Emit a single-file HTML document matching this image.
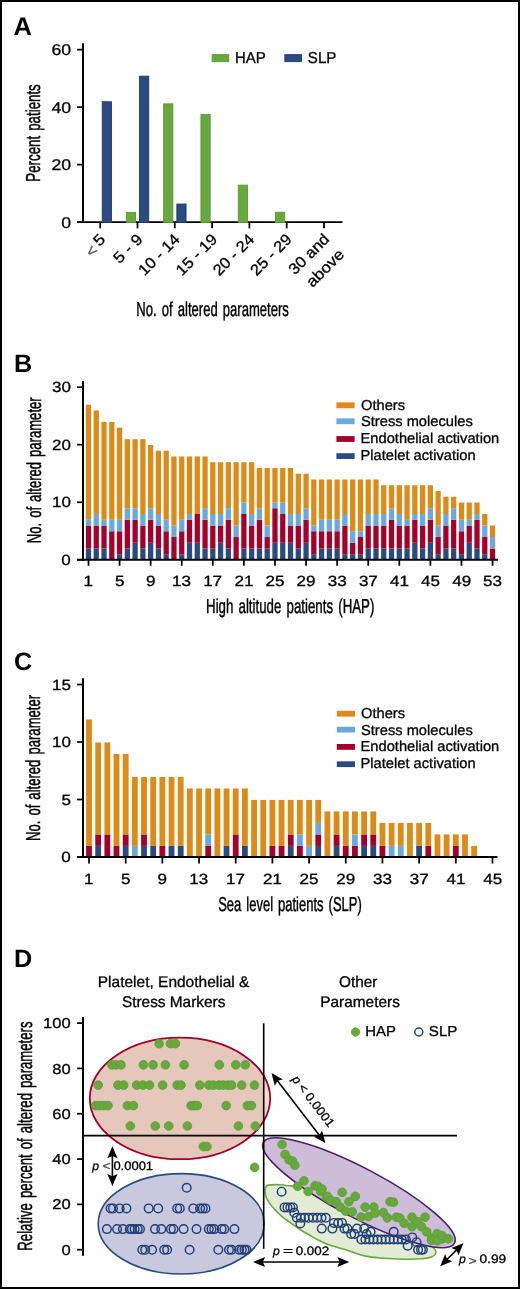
<!DOCTYPE html>
<html><head><meta charset="utf-8"><style>
html,body{margin:0;padding:0;background:#fff;}
svg{display:block;will-change:transform;}
text{font-family:"Liberation Sans",sans-serif;text-rendering:geometricPrecision;}
</style></head><body>
<svg width="520" height="1289" viewBox="0 0 520 1289">
<rect x="0" y="0" width="520" height="1289" fill="#fff"/>
<text transform="translate(14.30,35.10)" x="-0.77" y="0" font-size="25.5" font-weight="bold" fill="#000">A</text>
<line x1="83.00" y1="43.20" x2="83.00" y2="223.05" stroke="#000" stroke-width="2.0"/>
<line x1="77.10" y1="49.65" x2="83.00" y2="49.65" stroke="#000" stroke-width="1.75"/>
<text transform="translate(52.28,55.10) scale(1.1400,1)" x="-0.78" y="0" font-size="15.5" fill="#000" stroke="#000" stroke-width="0.3">60</text>
<line x1="77.10" y1="107.13" x2="83.00" y2="107.13" stroke="#000" stroke-width="1.75"/>
<text transform="translate(51.75,112.58) scale(1.1400,1)" x="-0.31" y="0" font-size="15.5" fill="#000" stroke="#000" stroke-width="0.3">40</text>
<line x1="77.10" y1="164.62" x2="83.00" y2="164.62" stroke="#000" stroke-width="1.75"/>
<text transform="translate(52.28,170.07) scale(1.1400,1)" x="-0.78" y="0" font-size="15.5" fill="#000" stroke="#000" stroke-width="0.3">20</text>
<line x1="77.10" y1="222.10" x2="83.00" y2="222.10" stroke="#000" stroke-width="1.75"/>
<text transform="translate(61.82,227.55) scale(1.1400,1)" x="-0.62" y="0" font-size="15.5" fill="#000" stroke="#000" stroke-width="0.3">0</text>
<line x1="77.10" y1="222.10" x2="342.50" y2="222.10" stroke="#000" stroke-width="1.9"/>
<line x1="100.20" y1="222.00" x2="100.20" y2="228.30" stroke="#000" stroke-width="1.75"/>
<line x1="137.50" y1="222.00" x2="137.50" y2="228.30" stroke="#000" stroke-width="1.75"/>
<line x1="174.80" y1="222.00" x2="174.80" y2="228.30" stroke="#000" stroke-width="1.75"/>
<line x1="212.10" y1="222.00" x2="212.10" y2="228.30" stroke="#000" stroke-width="1.75"/>
<line x1="249.40" y1="222.00" x2="249.40" y2="228.30" stroke="#000" stroke-width="1.75"/>
<line x1="286.70" y1="222.00" x2="286.70" y2="228.30" stroke="#000" stroke-width="1.75"/>
<line x1="324.00" y1="222.00" x2="324.00" y2="228.30" stroke="#000" stroke-width="1.75"/>
<rect x="102.25" y="101.75" width="9.20" height="120.70" fill="#2b4a80" stroke="#1f3b72" stroke-width="0.9"/>
<rect x="126.35" y="212.35" width="9.20" height="10.10" fill="#68a93e" stroke="#599c2f" stroke-width="0.9"/>
<rect x="139.55" y="76.15" width="9.20" height="146.30" fill="#2b4a80" stroke="#1f3b72" stroke-width="0.9"/>
<rect x="163.65" y="103.85" width="9.20" height="118.60" fill="#68a93e" stroke="#599c2f" stroke-width="0.9"/>
<rect x="176.85" y="204.05" width="9.20" height="18.40" fill="#2b4a80" stroke="#1f3b72" stroke-width="0.9"/>
<rect x="200.95" y="114.55" width="9.20" height="107.90" fill="#68a93e" stroke="#599c2f" stroke-width="0.9"/>
<rect x="238.25" y="185.15" width="9.20" height="37.30" fill="#68a93e" stroke="#599c2f" stroke-width="0.9"/>
<rect x="275.55" y="212.25" width="9.20" height="10.20" fill="#68a93e" stroke="#599c2f" stroke-width="0.9"/>
<rect x="212.15" y="54.65" width="16.6" height="7.0" fill="#68a93e" stroke="#599c2f" stroke-width="0.9"/>
<text transform="translate(236.20,62.90) scale(0.9461,1)" x="-1.26" y="0" font-size="15.8" fill="#000" stroke="#000" stroke-width="0.3">HAP</text>
<rect x="284.85" y="54.65" width="16.6" height="7.0" fill="#2b4a80" stroke="#1f3b72" stroke-width="0.9"/>
<text transform="translate(308.60,62.90) scale(0.9547,1)" x="-0.79" y="0" font-size="15.8" fill="#000" stroke="#000" stroke-width="0.3">SLP</text>
<text transform="translate(40.30,180.60) rotate(-90) scale(0.6576,1)" x="-1.62" y="0" font-size="20.2" fill="#000" stroke="#000" stroke-width="0.45" word-spacing="2.2">Percent patients</text>
<text transform="translate(137.40,315.90) scale(0.6476,1)" x="-1.62" y="0" font-size="20.2" fill="#000" stroke="#000" stroke-width="0.45" word-spacing="2.2">No. of altered parameters</text>
<text transform="translate(100.03,246.47) rotate(-45) scale(1.1000,1)" x="-0.62" y="0" font-size="15.5" fill="#000" stroke="#000" stroke-width="0.3">5</text>
<text transform="translate(119.97,263.83) rotate(-45) scale(1.1000,1)" x="-0.62" y="0" font-size="15.5" fill="#000" stroke="#000" stroke-width="0.3">5 - 9</text>
<text transform="translate(145.45,275.65) rotate(-45) scale(1.0600,1)" x="-1.24" y="0" font-size="15.5" fill="#000" stroke="#000" stroke-width="0.3">10 - 14</text>
<text transform="translate(182.86,275.54) rotate(-45) scale(1.0600,1)" x="-1.24" y="0" font-size="15.5" fill="#000" stroke="#000" stroke-width="0.3">15 - 19</text>
<text transform="translate(219.70,276.00) rotate(-45) scale(1.0600,1)" x="-0.78" y="0" font-size="15.5" fill="#000" stroke="#000" stroke-width="0.3">20 - 24</text>
<text transform="translate(257.11,275.89) rotate(-45) scale(1.0600,1)" x="-0.78" y="0" font-size="15.5" fill="#000" stroke="#000" stroke-width="0.3">25 - 29</text>
<text transform="translate(295.23,275.07) rotate(-45) scale(1.0600,1)" x="-0.62" y="0" font-size="15.5" fill="#000" stroke="#000" stroke-width="0.3">30 and</text>
<text transform="translate(92.47,257.63) rotate(-45) scale(1.1000,1)" x="-0.78" y="0" font-size="15.5" fill="#555" stroke="#555" stroke-width="0.3">&lt;</text>
<text transform="translate(312.87,287.63) rotate(-45) scale(1.1000,1)" x="-0.62" y="0" font-size="15.5" fill="#000" stroke="#000" stroke-width="0.3">above</text>
<text transform="translate(15.80,371.90)" x="-1.76" y="0" font-size="25.2" font-weight="bold" fill="#000">B</text>
<line x1="83.00" y1="380.90" x2="83.00" y2="560.80" stroke="#000" stroke-width="2.0"/>
<line x1="77.10" y1="387.15" x2="83.00" y2="387.15" stroke="#000" stroke-width="1.75"/>
<text transform="translate(52.67,392.35) scale(1.1500,1)" x="-0.59" y="0" font-size="14.8" fill="#000" stroke="#000" stroke-width="0.3">30</text>
<line x1="77.10" y1="444.70" x2="83.00" y2="444.70" stroke="#000" stroke-width="1.75"/>
<text transform="translate(52.84,449.90) scale(1.1500,1)" x="-0.74" y="0" font-size="14.8" fill="#000" stroke="#000" stroke-width="0.3">20</text>
<line x1="77.10" y1="502.25" x2="83.00" y2="502.25" stroke="#000" stroke-width="1.75"/>
<text transform="translate(53.35,507.45) scale(1.1500,1)" x="-1.18" y="0" font-size="14.8" fill="#000" stroke="#000" stroke-width="0.3">10</text>
<line x1="77.10" y1="559.80" x2="83.00" y2="559.80" stroke="#000" stroke-width="1.75"/>
<text transform="translate(62.03,565.00) scale(1.1500,1)" x="-0.59" y="0" font-size="14.8" fill="#000" stroke="#000" stroke-width="0.3">0</text>
<rect x="85.88" y="548.54" width="5.25" height="11.51" fill="#2b4a80"/>
<rect x="85.88" y="525.52" width="5.25" height="23.02" fill="#a5002a"/>
<rect x="85.88" y="519.76" width="5.25" height="5.75" fill="#68a9df"/>
<rect x="85.88" y="404.66" width="5.25" height="115.10" fill="#dd8a17"/>
<rect x="93.64" y="548.54" width="5.25" height="11.51" fill="#2b4a80"/>
<rect x="93.64" y="525.52" width="5.25" height="23.02" fill="#a5002a"/>
<rect x="93.64" y="514.01" width="5.25" height="11.51" fill="#68a9df"/>
<rect x="93.64" y="410.42" width="5.25" height="103.59" fill="#dd8a17"/>
<rect x="101.41" y="548.54" width="5.25" height="11.51" fill="#2b4a80"/>
<rect x="101.41" y="525.52" width="5.25" height="23.02" fill="#a5002a"/>
<rect x="101.41" y="519.76" width="5.25" height="5.75" fill="#68a9df"/>
<rect x="101.41" y="421.93" width="5.25" height="97.83" fill="#dd8a17"/>
<rect x="109.19" y="531.27" width="5.25" height="28.77" fill="#a5002a"/>
<rect x="109.19" y="519.76" width="5.25" height="11.51" fill="#68a9df"/>
<rect x="109.19" y="421.93" width="5.25" height="97.83" fill="#dd8a17"/>
<rect x="116.95" y="554.29" width="5.25" height="5.75" fill="#2b4a80"/>
<rect x="116.95" y="531.27" width="5.25" height="23.02" fill="#a5002a"/>
<rect x="116.95" y="519.76" width="5.25" height="11.51" fill="#68a9df"/>
<rect x="116.95" y="427.68" width="5.25" height="92.08" fill="#dd8a17"/>
<rect x="124.72" y="548.54" width="5.25" height="11.51" fill="#2b4a80"/>
<rect x="124.72" y="519.76" width="5.25" height="28.77" fill="#a5002a"/>
<rect x="124.72" y="508.25" width="5.25" height="11.51" fill="#68a9df"/>
<rect x="124.72" y="439.19" width="5.25" height="69.06" fill="#dd8a17"/>
<rect x="132.50" y="542.78" width="5.25" height="17.26" fill="#2b4a80"/>
<rect x="132.50" y="519.76" width="5.25" height="23.02" fill="#a5002a"/>
<rect x="132.50" y="508.25" width="5.25" height="11.51" fill="#68a9df"/>
<rect x="132.50" y="439.19" width="5.25" height="69.06" fill="#dd8a17"/>
<rect x="140.26" y="548.54" width="5.25" height="11.51" fill="#2b4a80"/>
<rect x="140.26" y="525.52" width="5.25" height="23.02" fill="#a5002a"/>
<rect x="140.26" y="514.01" width="5.25" height="11.51" fill="#68a9df"/>
<rect x="140.26" y="439.19" width="5.25" height="74.81" fill="#dd8a17"/>
<rect x="148.03" y="542.78" width="5.25" height="17.26" fill="#2b4a80"/>
<rect x="148.03" y="519.76" width="5.25" height="23.02" fill="#a5002a"/>
<rect x="148.03" y="508.25" width="5.25" height="11.51" fill="#68a9df"/>
<rect x="148.03" y="444.95" width="5.25" height="63.30" fill="#dd8a17"/>
<rect x="155.81" y="548.54" width="5.25" height="11.51" fill="#2b4a80"/>
<rect x="155.81" y="525.52" width="5.25" height="23.02" fill="#a5002a"/>
<rect x="155.81" y="514.01" width="5.25" height="11.51" fill="#68a9df"/>
<rect x="155.81" y="450.70" width="5.25" height="63.30" fill="#dd8a17"/>
<rect x="163.57" y="554.29" width="5.25" height="5.75" fill="#2b4a80"/>
<rect x="163.57" y="531.27" width="5.25" height="23.02" fill="#a5002a"/>
<rect x="163.57" y="519.76" width="5.25" height="11.51" fill="#68a9df"/>
<rect x="163.57" y="450.70" width="5.25" height="69.06" fill="#dd8a17"/>
<rect x="171.34" y="537.03" width="5.25" height="23.02" fill="#a5002a"/>
<rect x="171.34" y="525.52" width="5.25" height="11.51" fill="#68a9df"/>
<rect x="171.34" y="456.46" width="5.25" height="69.06" fill="#dd8a17"/>
<rect x="179.12" y="554.29" width="5.25" height="5.75" fill="#2b4a80"/>
<rect x="179.12" y="531.27" width="5.25" height="23.02" fill="#a5002a"/>
<rect x="179.12" y="519.76" width="5.25" height="11.51" fill="#68a9df"/>
<rect x="179.12" y="456.46" width="5.25" height="63.30" fill="#dd8a17"/>
<rect x="186.88" y="542.78" width="5.25" height="17.26" fill="#2b4a80"/>
<rect x="186.88" y="519.76" width="5.25" height="23.02" fill="#a5002a"/>
<rect x="186.88" y="514.01" width="5.25" height="5.75" fill="#68a9df"/>
<rect x="186.88" y="456.46" width="5.25" height="57.55" fill="#dd8a17"/>
<rect x="194.66" y="542.78" width="5.25" height="17.26" fill="#2b4a80"/>
<rect x="194.66" y="514.01" width="5.25" height="28.77" fill="#a5002a"/>
<rect x="194.66" y="456.46" width="5.25" height="57.55" fill="#dd8a17"/>
<rect x="202.43" y="548.54" width="5.25" height="11.51" fill="#2b4a80"/>
<rect x="202.43" y="519.76" width="5.25" height="28.77" fill="#a5002a"/>
<rect x="202.43" y="508.25" width="5.25" height="11.51" fill="#68a9df"/>
<rect x="202.43" y="456.46" width="5.25" height="51.79" fill="#dd8a17"/>
<rect x="210.19" y="548.54" width="5.25" height="11.51" fill="#2b4a80"/>
<rect x="210.19" y="525.52" width="5.25" height="23.02" fill="#a5002a"/>
<rect x="210.19" y="514.01" width="5.25" height="11.51" fill="#68a9df"/>
<rect x="210.19" y="462.21" width="5.25" height="51.79" fill="#dd8a17"/>
<rect x="217.97" y="542.78" width="5.25" height="17.26" fill="#2b4a80"/>
<rect x="217.97" y="525.52" width="5.25" height="17.26" fill="#a5002a"/>
<rect x="217.97" y="514.01" width="5.25" height="11.51" fill="#68a9df"/>
<rect x="217.97" y="462.21" width="5.25" height="51.79" fill="#dd8a17"/>
<rect x="225.73" y="548.54" width="5.25" height="11.51" fill="#2b4a80"/>
<rect x="225.73" y="519.76" width="5.25" height="28.77" fill="#a5002a"/>
<rect x="225.73" y="508.25" width="5.25" height="11.51" fill="#68a9df"/>
<rect x="225.73" y="462.21" width="5.25" height="46.04" fill="#dd8a17"/>
<rect x="233.50" y="537.03" width="5.25" height="23.02" fill="#a5002a"/>
<rect x="233.50" y="525.52" width="5.25" height="11.51" fill="#68a9df"/>
<rect x="233.50" y="462.21" width="5.25" height="63.30" fill="#dd8a17"/>
<rect x="241.27" y="548.54" width="5.25" height="11.51" fill="#2b4a80"/>
<rect x="241.27" y="514.01" width="5.25" height="34.53" fill="#a5002a"/>
<rect x="241.27" y="502.50" width="5.25" height="11.51" fill="#68a9df"/>
<rect x="241.27" y="462.21" width="5.25" height="40.28" fill="#dd8a17"/>
<rect x="249.04" y="548.54" width="5.25" height="11.51" fill="#2b4a80"/>
<rect x="249.04" y="525.52" width="5.25" height="23.02" fill="#a5002a"/>
<rect x="249.04" y="514.01" width="5.25" height="11.51" fill="#68a9df"/>
<rect x="249.04" y="462.21" width="5.25" height="51.79" fill="#dd8a17"/>
<rect x="256.81" y="548.54" width="5.25" height="11.51" fill="#2b4a80"/>
<rect x="256.81" y="519.76" width="5.25" height="28.77" fill="#a5002a"/>
<rect x="256.81" y="508.25" width="5.25" height="11.51" fill="#68a9df"/>
<rect x="256.81" y="467.97" width="5.25" height="40.28" fill="#dd8a17"/>
<rect x="264.58" y="548.54" width="5.25" height="11.51" fill="#2b4a80"/>
<rect x="264.58" y="537.03" width="5.25" height="11.51" fill="#a5002a"/>
<rect x="264.58" y="525.52" width="5.25" height="11.51" fill="#68a9df"/>
<rect x="264.58" y="467.97" width="5.25" height="57.55" fill="#dd8a17"/>
<rect x="272.36" y="542.78" width="5.25" height="17.26" fill="#2b4a80"/>
<rect x="272.36" y="508.25" width="5.25" height="34.53" fill="#a5002a"/>
<rect x="272.36" y="502.50" width="5.25" height="5.75" fill="#68a9df"/>
<rect x="272.36" y="467.97" width="5.25" height="34.53" fill="#dd8a17"/>
<rect x="280.12" y="542.78" width="5.25" height="17.26" fill="#2b4a80"/>
<rect x="280.12" y="514.01" width="5.25" height="28.77" fill="#a5002a"/>
<rect x="280.12" y="502.50" width="5.25" height="11.51" fill="#68a9df"/>
<rect x="280.12" y="467.97" width="5.25" height="34.53" fill="#dd8a17"/>
<rect x="287.89" y="542.78" width="5.25" height="17.26" fill="#2b4a80"/>
<rect x="287.89" y="525.52" width="5.25" height="17.26" fill="#a5002a"/>
<rect x="287.89" y="514.01" width="5.25" height="11.51" fill="#68a9df"/>
<rect x="287.89" y="467.97" width="5.25" height="46.04" fill="#dd8a17"/>
<rect x="295.66" y="548.54" width="5.25" height="11.51" fill="#2b4a80"/>
<rect x="295.66" y="525.52" width="5.25" height="23.02" fill="#a5002a"/>
<rect x="295.66" y="514.01" width="5.25" height="11.51" fill="#68a9df"/>
<rect x="295.66" y="473.72" width="5.25" height="40.28" fill="#dd8a17"/>
<rect x="303.44" y="542.78" width="5.25" height="17.26" fill="#2b4a80"/>
<rect x="303.44" y="519.76" width="5.25" height="23.02" fill="#a5002a"/>
<rect x="303.44" y="508.25" width="5.25" height="11.51" fill="#68a9df"/>
<rect x="303.44" y="473.72" width="5.25" height="34.53" fill="#dd8a17"/>
<rect x="311.20" y="554.29" width="5.25" height="5.75" fill="#2b4a80"/>
<rect x="311.20" y="531.27" width="5.25" height="23.02" fill="#a5002a"/>
<rect x="311.20" y="525.52" width="5.25" height="5.75" fill="#68a9df"/>
<rect x="311.20" y="479.48" width="5.25" height="46.04" fill="#dd8a17"/>
<rect x="318.98" y="548.54" width="5.25" height="11.51" fill="#2b4a80"/>
<rect x="318.98" y="531.27" width="5.25" height="17.26" fill="#a5002a"/>
<rect x="318.98" y="519.76" width="5.25" height="11.51" fill="#68a9df"/>
<rect x="318.98" y="479.48" width="5.25" height="40.28" fill="#dd8a17"/>
<rect x="326.75" y="548.54" width="5.25" height="11.51" fill="#2b4a80"/>
<rect x="326.75" y="531.27" width="5.25" height="17.26" fill="#a5002a"/>
<rect x="326.75" y="519.76" width="5.25" height="11.51" fill="#68a9df"/>
<rect x="326.75" y="479.48" width="5.25" height="40.28" fill="#dd8a17"/>
<rect x="334.51" y="548.54" width="5.25" height="11.51" fill="#2b4a80"/>
<rect x="334.51" y="531.27" width="5.25" height="17.26" fill="#a5002a"/>
<rect x="334.51" y="519.76" width="5.25" height="11.51" fill="#68a9df"/>
<rect x="334.51" y="479.48" width="5.25" height="40.28" fill="#dd8a17"/>
<rect x="342.28" y="554.29" width="5.25" height="5.75" fill="#2b4a80"/>
<rect x="342.28" y="525.52" width="5.25" height="28.77" fill="#a5002a"/>
<rect x="342.28" y="514.01" width="5.25" height="11.51" fill="#68a9df"/>
<rect x="342.28" y="479.48" width="5.25" height="34.53" fill="#dd8a17"/>
<rect x="350.06" y="554.29" width="5.25" height="5.75" fill="#2b4a80"/>
<rect x="350.06" y="542.78" width="5.25" height="11.51" fill="#a5002a"/>
<rect x="350.06" y="531.27" width="5.25" height="11.51" fill="#68a9df"/>
<rect x="350.06" y="479.48" width="5.25" height="51.79" fill="#dd8a17"/>
<rect x="357.82" y="554.29" width="5.25" height="5.75" fill="#2b4a80"/>
<rect x="357.82" y="537.03" width="5.25" height="17.26" fill="#a5002a"/>
<rect x="357.82" y="531.27" width="5.25" height="5.75" fill="#68a9df"/>
<rect x="357.82" y="479.48" width="5.25" height="51.79" fill="#dd8a17"/>
<rect x="365.59" y="548.54" width="5.25" height="11.51" fill="#2b4a80"/>
<rect x="365.59" y="525.52" width="5.25" height="23.02" fill="#a5002a"/>
<rect x="365.59" y="514.01" width="5.25" height="11.51" fill="#68a9df"/>
<rect x="365.59" y="479.48" width="5.25" height="34.53" fill="#dd8a17"/>
<rect x="373.37" y="548.54" width="5.25" height="11.51" fill="#2b4a80"/>
<rect x="373.37" y="525.52" width="5.25" height="23.02" fill="#a5002a"/>
<rect x="373.37" y="514.01" width="5.25" height="11.51" fill="#68a9df"/>
<rect x="373.37" y="479.48" width="5.25" height="34.53" fill="#dd8a17"/>
<rect x="381.13" y="548.54" width="5.25" height="11.51" fill="#2b4a80"/>
<rect x="381.13" y="525.52" width="5.25" height="23.02" fill="#a5002a"/>
<rect x="381.13" y="514.01" width="5.25" height="11.51" fill="#68a9df"/>
<rect x="381.13" y="485.23" width="5.25" height="28.77" fill="#dd8a17"/>
<rect x="388.90" y="548.54" width="5.25" height="11.51" fill="#2b4a80"/>
<rect x="388.90" y="519.76" width="5.25" height="28.77" fill="#a5002a"/>
<rect x="388.90" y="508.25" width="5.25" height="11.51" fill="#68a9df"/>
<rect x="388.90" y="485.23" width="5.25" height="23.02" fill="#dd8a17"/>
<rect x="396.67" y="548.54" width="5.25" height="11.51" fill="#2b4a80"/>
<rect x="396.67" y="525.52" width="5.25" height="23.02" fill="#a5002a"/>
<rect x="396.67" y="514.01" width="5.25" height="11.51" fill="#68a9df"/>
<rect x="396.67" y="485.23" width="5.25" height="28.77" fill="#dd8a17"/>
<rect x="404.44" y="548.54" width="5.25" height="11.51" fill="#2b4a80"/>
<rect x="404.44" y="525.52" width="5.25" height="23.02" fill="#a5002a"/>
<rect x="404.44" y="519.76" width="5.25" height="5.75" fill="#68a9df"/>
<rect x="404.44" y="485.23" width="5.25" height="34.53" fill="#dd8a17"/>
<rect x="412.21" y="542.78" width="5.25" height="17.26" fill="#2b4a80"/>
<rect x="412.21" y="519.76" width="5.25" height="23.02" fill="#a5002a"/>
<rect x="412.21" y="514.01" width="5.25" height="5.75" fill="#68a9df"/>
<rect x="412.21" y="485.23" width="5.25" height="28.77" fill="#dd8a17"/>
<rect x="419.98" y="548.54" width="5.25" height="11.51" fill="#2b4a80"/>
<rect x="419.98" y="525.52" width="5.25" height="23.02" fill="#a5002a"/>
<rect x="419.98" y="514.01" width="5.25" height="11.51" fill="#68a9df"/>
<rect x="419.98" y="485.23" width="5.25" height="28.77" fill="#dd8a17"/>
<rect x="427.75" y="542.78" width="5.25" height="17.26" fill="#2b4a80"/>
<rect x="427.75" y="519.76" width="5.25" height="23.02" fill="#a5002a"/>
<rect x="427.75" y="508.25" width="5.25" height="11.51" fill="#68a9df"/>
<rect x="427.75" y="485.23" width="5.25" height="23.02" fill="#dd8a17"/>
<rect x="435.52" y="554.29" width="5.25" height="5.75" fill="#2b4a80"/>
<rect x="435.52" y="537.03" width="5.25" height="17.26" fill="#a5002a"/>
<rect x="435.52" y="525.52" width="5.25" height="11.51" fill="#68a9df"/>
<rect x="435.52" y="490.99" width="5.25" height="34.53" fill="#dd8a17"/>
<rect x="443.29" y="548.54" width="5.25" height="11.51" fill="#2b4a80"/>
<rect x="443.29" y="525.52" width="5.25" height="23.02" fill="#a5002a"/>
<rect x="443.29" y="514.01" width="5.25" height="11.51" fill="#68a9df"/>
<rect x="443.29" y="496.74" width="5.25" height="17.26" fill="#dd8a17"/>
<rect x="451.06" y="548.54" width="5.25" height="11.51" fill="#2b4a80"/>
<rect x="451.06" y="519.76" width="5.25" height="28.77" fill="#a5002a"/>
<rect x="451.06" y="508.25" width="5.25" height="11.51" fill="#68a9df"/>
<rect x="451.06" y="496.74" width="5.25" height="11.51" fill="#dd8a17"/>
<rect x="458.83" y="554.29" width="5.25" height="5.75" fill="#2b4a80"/>
<rect x="458.83" y="531.27" width="5.25" height="23.02" fill="#a5002a"/>
<rect x="458.83" y="519.76" width="5.25" height="11.51" fill="#68a9df"/>
<rect x="458.83" y="502.50" width="5.25" height="17.26" fill="#dd8a17"/>
<rect x="466.60" y="542.78" width="5.25" height="17.26" fill="#2b4a80"/>
<rect x="466.60" y="525.52" width="5.25" height="17.26" fill="#a5002a"/>
<rect x="466.60" y="519.76" width="5.25" height="5.75" fill="#68a9df"/>
<rect x="466.60" y="502.50" width="5.25" height="17.26" fill="#dd8a17"/>
<rect x="474.38" y="548.54" width="5.25" height="11.51" fill="#2b4a80"/>
<rect x="474.38" y="519.76" width="5.25" height="28.77" fill="#a5002a"/>
<rect x="474.38" y="514.01" width="5.25" height="5.75" fill="#68a9df"/>
<rect x="474.38" y="502.50" width="5.25" height="11.51" fill="#dd8a17"/>
<rect x="482.14" y="554.29" width="5.25" height="5.75" fill="#2b4a80"/>
<rect x="482.14" y="537.03" width="5.25" height="17.26" fill="#a5002a"/>
<rect x="482.14" y="525.52" width="5.25" height="11.51" fill="#68a9df"/>
<rect x="482.14" y="514.01" width="5.25" height="11.51" fill="#dd8a17"/>
<rect x="489.91" y="548.54" width="5.25" height="11.51" fill="#a5002a"/>
<rect x="489.91" y="537.03" width="5.25" height="11.51" fill="#68a9df"/>
<rect x="489.91" y="525.52" width="5.25" height="11.51" fill="#dd8a17"/>
<line x1="77.10" y1="559.80" x2="497.90" y2="559.80" stroke="#000" stroke-width="2.0"/>
<line x1="88.50" y1="559.80" x2="88.50" y2="565.80" stroke="#000" stroke-width="1.75"/>
<text transform="translate(84.84,586.00) scale(1.1500,1)" x="-1.18" y="0" font-size="14.8" fill="#000" stroke="#000" stroke-width="0.3">1</text>
<line x1="119.58" y1="559.80" x2="119.58" y2="565.80" stroke="#000" stroke-width="1.75"/>
<text transform="translate(115.58,586.00) scale(1.1500,1)" x="-0.59" y="0" font-size="14.8" fill="#000" stroke="#000" stroke-width="0.3">5</text>
<line x1="150.66" y1="559.80" x2="150.66" y2="565.80" stroke="#000" stroke-width="1.75"/>
<text transform="translate(146.75,586.00) scale(1.1500,1)" x="-0.74" y="0" font-size="14.8" fill="#000" stroke="#000" stroke-width="0.3">9</text>
<line x1="181.74" y1="559.80" x2="181.74" y2="565.80" stroke="#000" stroke-width="1.75"/>
<text transform="translate(173.32,586.00) scale(1.1500,1)" x="-1.18" y="0" font-size="14.8" fill="#000" stroke="#000" stroke-width="0.3">13</text>
<line x1="212.82" y1="559.80" x2="212.82" y2="565.80" stroke="#000" stroke-width="1.75"/>
<text transform="translate(204.48,586.00) scale(1.1500,1)" x="-1.18" y="0" font-size="14.8" fill="#000" stroke="#000" stroke-width="0.3">17</text>
<line x1="243.90" y1="559.80" x2="243.90" y2="565.80" stroke="#000" stroke-width="1.75"/>
<text transform="translate(235.30,586.00) scale(1.1500,1)" x="-0.74" y="0" font-size="14.8" fill="#000" stroke="#000" stroke-width="0.3">21</text>
<line x1="274.98" y1="559.80" x2="274.98" y2="565.80" stroke="#000" stroke-width="1.75"/>
<text transform="translate(266.30,586.00) scale(1.1500,1)" x="-0.74" y="0" font-size="14.8" fill="#000" stroke="#000" stroke-width="0.3">25</text>
<line x1="306.06" y1="559.80" x2="306.06" y2="565.80" stroke="#000" stroke-width="1.75"/>
<text transform="translate(297.46,586.00) scale(1.1500,1)" x="-0.74" y="0" font-size="14.8" fill="#000" stroke="#000" stroke-width="0.3">29</text>
<line x1="337.14" y1="559.80" x2="337.14" y2="565.80" stroke="#000" stroke-width="1.75"/>
<text transform="translate(328.37,586.00) scale(1.1500,1)" x="-0.59" y="0" font-size="14.8" fill="#000" stroke="#000" stroke-width="0.3">33</text>
<line x1="368.22" y1="559.80" x2="368.22" y2="565.80" stroke="#000" stroke-width="1.75"/>
<text transform="translate(359.54,586.00) scale(1.1500,1)" x="-0.59" y="0" font-size="14.8" fill="#000" stroke="#000" stroke-width="0.3">37</text>
<line x1="399.30" y1="559.80" x2="399.30" y2="565.80" stroke="#000" stroke-width="1.75"/>
<text transform="translate(390.45,586.00) scale(1.1500,1)" x="-0.30" y="0" font-size="14.8" fill="#000" stroke="#000" stroke-width="0.3">41</text>
<line x1="430.38" y1="559.80" x2="430.38" y2="565.80" stroke="#000" stroke-width="1.75"/>
<text transform="translate(421.44,586.00) scale(1.1500,1)" x="-0.30" y="0" font-size="14.8" fill="#000" stroke="#000" stroke-width="0.3">45</text>
<line x1="461.46" y1="559.80" x2="461.46" y2="565.80" stroke="#000" stroke-width="1.75"/>
<text transform="translate(452.61,586.00) scale(1.1500,1)" x="-0.30" y="0" font-size="14.8" fill="#000" stroke="#000" stroke-width="0.3">49</text>
<line x1="492.54" y1="559.80" x2="492.54" y2="565.80" stroke="#000" stroke-width="1.75"/>
<text transform="translate(483.77,586.00) scale(1.1500,1)" x="-0.59" y="0" font-size="14.8" fill="#000" stroke="#000" stroke-width="0.3">53</text>
<rect x="336.40" y="402.40" width="18.20" height="5.80" fill="#dd8a17"/>
<rect x="336.40" y="418.40" width="18.20" height="5.80" fill="#68a9df"/>
<rect x="336.40" y="436.10" width="18.20" height="5.80" fill="#a5002a"/>
<rect x="336.40" y="453.20" width="18.20" height="5.80" fill="#2b4a80"/>
<text transform="translate(361.70,409.60) scale(1.0200,1)" x="-0.72" y="0" font-size="14.4" fill="#000" stroke="#000" stroke-width="0.3">Others</text>
<text transform="translate(361.70,426.30) scale(1.0200,1)" x="-0.72" y="0" font-size="14.4" fill="#000" stroke="#000" stroke-width="0.3">Stress molecules</text>
<text transform="translate(361.70,443.00) scale(1.0200,1)" x="-1.15" y="0" font-size="14.4" fill="#000" stroke="#000" stroke-width="0.3">Endothelial activation</text>
<text transform="translate(361.70,459.60) scale(1.0200,1)" x="-1.15" y="0" font-size="14.4" fill="#000" stroke="#000" stroke-width="0.3">Platelet activation</text>
<text transform="translate(40.70,542.20) rotate(-90) scale(0.6471,1)" x="-1.62" y="0" font-size="20.2" fill="#000" stroke="#000" stroke-width="0.45" word-spacing="2.2">No. of altered parameter</text>
<text transform="translate(207.10,612.80) scale(0.6584,1)" x="-1.62" y="0" font-size="20.2" fill="#000" stroke="#000" stroke-width="0.45" word-spacing="2.2">High altitude patients (HAP)</text>
<text transform="translate(15.00,669.60)" x="-1.01" y="0" font-size="25.2" font-weight="bold" fill="#000">C</text>
<line x1="83.00" y1="678.30" x2="83.00" y2="857.90" stroke="#000" stroke-width="2.0"/>
<line x1="77.10" y1="684.55" x2="83.00" y2="684.55" stroke="#000" stroke-width="1.75"/>
<text transform="translate(53.35,689.75) scale(1.1500,1)" x="-1.18" y="0" font-size="14.8" fill="#000" stroke="#000" stroke-width="0.3">15</text>
<line x1="77.10" y1="742.03" x2="83.00" y2="742.03" stroke="#000" stroke-width="1.75"/>
<text transform="translate(53.35,747.23) scale(1.1500,1)" x="-1.18" y="0" font-size="14.8" fill="#000" stroke="#000" stroke-width="0.3">10</text>
<line x1="77.10" y1="799.52" x2="83.00" y2="799.52" stroke="#000" stroke-width="1.75"/>
<text transform="translate(62.20,804.72) scale(1.1500,1)" x="-0.59" y="0" font-size="14.8" fill="#000" stroke="#000" stroke-width="0.3">5</text>
<line x1="77.10" y1="857.00" x2="83.00" y2="857.00" stroke="#000" stroke-width="1.75"/>
<text transform="translate(62.03,862.20) scale(1.1500,1)" x="-0.59" y="0" font-size="14.8" fill="#000" stroke="#000" stroke-width="0.3">0</text>
<rect x="86.10" y="845.90" width="5.80" height="11.50" fill="#a5002a"/>
<rect x="86.10" y="719.44" width="5.80" height="126.46" fill="#dd8a17"/>
<rect x="95.27" y="845.90" width="5.80" height="11.50" fill="#2b4a80"/>
<rect x="95.27" y="834.41" width="5.80" height="11.50" fill="#a5002a"/>
<rect x="95.27" y="742.43" width="5.80" height="91.97" fill="#dd8a17"/>
<rect x="104.44" y="834.41" width="5.80" height="22.99" fill="#a5002a"/>
<rect x="104.44" y="742.43" width="5.80" height="91.97" fill="#dd8a17"/>
<rect x="113.61" y="845.90" width="5.80" height="11.50" fill="#a5002a"/>
<rect x="113.61" y="753.93" width="5.80" height="91.97" fill="#dd8a17"/>
<rect x="122.78" y="845.90" width="5.80" height="11.50" fill="#2b4a80"/>
<rect x="122.78" y="834.41" width="5.80" height="11.50" fill="#a5002a"/>
<rect x="122.78" y="753.93" width="5.80" height="80.48" fill="#dd8a17"/>
<rect x="131.95" y="845.90" width="5.80" height="11.50" fill="#68a9df"/>
<rect x="131.95" y="776.92" width="5.80" height="68.98" fill="#dd8a17"/>
<rect x="141.12" y="845.90" width="5.80" height="11.50" fill="#2b4a80"/>
<rect x="141.12" y="834.41" width="5.80" height="11.50" fill="#a5002a"/>
<rect x="141.12" y="776.92" width="5.80" height="57.48" fill="#dd8a17"/>
<rect x="150.29" y="845.90" width="5.80" height="11.50" fill="#2b4a80"/>
<rect x="150.29" y="776.92" width="5.80" height="68.98" fill="#dd8a17"/>
<rect x="159.46" y="845.90" width="5.80" height="11.50" fill="#a5002a"/>
<rect x="159.46" y="776.92" width="5.80" height="68.98" fill="#dd8a17"/>
<rect x="168.63" y="845.90" width="5.80" height="11.50" fill="#2b4a80"/>
<rect x="168.63" y="776.92" width="5.80" height="68.98" fill="#dd8a17"/>
<rect x="177.80" y="845.90" width="5.80" height="11.50" fill="#2b4a80"/>
<rect x="177.80" y="776.92" width="5.80" height="68.98" fill="#dd8a17"/>
<rect x="186.97" y="788.42" width="5.80" height="68.98" fill="#dd8a17"/>
<rect x="196.14" y="788.42" width="5.80" height="68.98" fill="#dd8a17"/>
<rect x="205.31" y="845.90" width="5.80" height="11.50" fill="#a5002a"/>
<rect x="205.31" y="834.41" width="5.80" height="11.50" fill="#68a9df"/>
<rect x="205.31" y="788.42" width="5.80" height="45.99" fill="#dd8a17"/>
<rect x="214.48" y="788.42" width="5.80" height="68.98" fill="#dd8a17"/>
<rect x="223.65" y="845.90" width="5.80" height="11.50" fill="#2b4a80"/>
<rect x="223.65" y="788.42" width="5.80" height="57.48" fill="#dd8a17"/>
<rect x="232.82" y="834.41" width="5.80" height="22.99" fill="#a5002a"/>
<rect x="232.82" y="788.42" width="5.80" height="45.99" fill="#dd8a17"/>
<rect x="241.99" y="845.90" width="5.80" height="11.50" fill="#2b4a80"/>
<rect x="241.99" y="788.42" width="5.80" height="57.48" fill="#dd8a17"/>
<rect x="251.16" y="799.92" width="5.80" height="57.48" fill="#dd8a17"/>
<rect x="260.33" y="799.92" width="5.80" height="57.48" fill="#dd8a17"/>
<rect x="269.50" y="845.90" width="5.80" height="11.50" fill="#a5002a"/>
<rect x="269.50" y="799.92" width="5.80" height="45.99" fill="#dd8a17"/>
<rect x="278.67" y="845.90" width="5.80" height="11.50" fill="#a5002a"/>
<rect x="278.67" y="799.92" width="5.80" height="45.99" fill="#dd8a17"/>
<rect x="287.84" y="845.90" width="5.80" height="11.50" fill="#2b4a80"/>
<rect x="287.84" y="834.41" width="5.80" height="11.50" fill="#a5002a"/>
<rect x="287.84" y="799.92" width="5.80" height="34.49" fill="#dd8a17"/>
<rect x="297.01" y="845.90" width="5.80" height="11.50" fill="#a5002a"/>
<rect x="297.01" y="834.41" width="5.80" height="11.50" fill="#68a9df"/>
<rect x="297.01" y="799.92" width="5.80" height="34.49" fill="#dd8a17"/>
<rect x="306.18" y="845.90" width="5.80" height="11.50" fill="#68a9df"/>
<rect x="306.18" y="799.92" width="5.80" height="45.99" fill="#dd8a17"/>
<rect x="315.35" y="845.90" width="5.80" height="11.50" fill="#2b4a80"/>
<rect x="315.35" y="834.41" width="5.80" height="11.50" fill="#a5002a"/>
<rect x="315.35" y="822.91" width="5.80" height="11.50" fill="#68a9df"/>
<rect x="315.35" y="799.92" width="5.80" height="22.99" fill="#dd8a17"/>
<rect x="324.52" y="811.41" width="5.80" height="45.99" fill="#dd8a17"/>
<rect x="333.69" y="845.90" width="5.80" height="11.50" fill="#2b4a80"/>
<rect x="333.69" y="834.41" width="5.80" height="11.50" fill="#a5002a"/>
<rect x="333.69" y="811.41" width="5.80" height="22.99" fill="#dd8a17"/>
<rect x="342.86" y="845.90" width="5.80" height="11.50" fill="#a5002a"/>
<rect x="342.86" y="811.41" width="5.80" height="34.49" fill="#dd8a17"/>
<rect x="352.03" y="845.90" width="5.80" height="11.50" fill="#a5002a"/>
<rect x="352.03" y="834.41" width="5.80" height="11.50" fill="#68a9df"/>
<rect x="352.03" y="811.41" width="5.80" height="22.99" fill="#dd8a17"/>
<rect x="361.20" y="845.90" width="5.80" height="11.50" fill="#2b4a80"/>
<rect x="361.20" y="834.41" width="5.80" height="11.50" fill="#a5002a"/>
<rect x="361.20" y="811.41" width="5.80" height="22.99" fill="#dd8a17"/>
<rect x="370.37" y="845.90" width="5.80" height="11.50" fill="#2b4a80"/>
<rect x="370.37" y="834.41" width="5.80" height="11.50" fill="#a5002a"/>
<rect x="370.37" y="811.41" width="5.80" height="22.99" fill="#dd8a17"/>
<rect x="379.54" y="845.90" width="5.80" height="11.50" fill="#a5002a"/>
<rect x="379.54" y="822.91" width="5.80" height="22.99" fill="#dd8a17"/>
<rect x="388.71" y="845.90" width="5.80" height="11.50" fill="#68a9df"/>
<rect x="388.71" y="822.91" width="5.80" height="22.99" fill="#dd8a17"/>
<rect x="397.88" y="845.90" width="5.80" height="11.50" fill="#68a9df"/>
<rect x="397.88" y="822.91" width="5.80" height="22.99" fill="#dd8a17"/>
<rect x="407.05" y="822.91" width="5.80" height="34.49" fill="#dd8a17"/>
<rect x="416.22" y="845.90" width="5.80" height="11.50" fill="#2b4a80"/>
<rect x="416.22" y="822.91" width="5.80" height="22.99" fill="#dd8a17"/>
<rect x="425.39" y="845.90" width="5.80" height="11.50" fill="#a5002a"/>
<rect x="425.39" y="822.91" width="5.80" height="22.99" fill="#dd8a17"/>
<rect x="434.56" y="834.41" width="5.80" height="22.99" fill="#dd8a17"/>
<rect x="443.73" y="834.41" width="5.80" height="22.99" fill="#dd8a17"/>
<rect x="452.90" y="845.90" width="5.80" height="11.50" fill="#a5002a"/>
<rect x="452.90" y="834.41" width="5.80" height="11.50" fill="#dd8a17"/>
<rect x="462.07" y="834.41" width="5.80" height="22.99" fill="#dd8a17"/>
<rect x="471.24" y="845.90" width="5.80" height="11.50" fill="#dd8a17"/>
<line x1="77.10" y1="857.00" x2="497.50" y2="857.00" stroke="#000" stroke-width="1.9"/>
<line x1="89.00" y1="857.00" x2="89.00" y2="863.50" stroke="#000" stroke-width="1.75"/>
<text transform="translate(85.34,884.00) scale(1.1500,1)" x="-1.18" y="0" font-size="14.8" fill="#000" stroke="#000" stroke-width="0.3">1</text>
<line x1="125.68" y1="857.00" x2="125.68" y2="863.50" stroke="#000" stroke-width="1.75"/>
<text transform="translate(121.68,884.00) scale(1.1500,1)" x="-0.59" y="0" font-size="14.8" fill="#000" stroke="#000" stroke-width="0.3">5</text>
<line x1="162.36" y1="857.00" x2="162.36" y2="863.50" stroke="#000" stroke-width="1.75"/>
<text transform="translate(158.45,884.00) scale(1.1500,1)" x="-0.74" y="0" font-size="14.8" fill="#000" stroke="#000" stroke-width="0.3">9</text>
<line x1="199.04" y1="857.00" x2="199.04" y2="863.50" stroke="#000" stroke-width="1.75"/>
<text transform="translate(190.62,884.00) scale(1.1500,1)" x="-1.18" y="0" font-size="14.8" fill="#000" stroke="#000" stroke-width="0.3">13</text>
<line x1="235.72" y1="857.00" x2="235.72" y2="863.50" stroke="#000" stroke-width="1.75"/>
<text transform="translate(227.38,884.00) scale(1.1500,1)" x="-1.18" y="0" font-size="14.8" fill="#000" stroke="#000" stroke-width="0.3">17</text>
<line x1="272.40" y1="857.00" x2="272.40" y2="863.50" stroke="#000" stroke-width="1.75"/>
<text transform="translate(263.80,884.00) scale(1.1500,1)" x="-0.74" y="0" font-size="14.8" fill="#000" stroke="#000" stroke-width="0.3">21</text>
<line x1="309.08" y1="857.00" x2="309.08" y2="863.50" stroke="#000" stroke-width="1.75"/>
<text transform="translate(300.40,884.00) scale(1.1500,1)" x="-0.74" y="0" font-size="14.8" fill="#000" stroke="#000" stroke-width="0.3">25</text>
<line x1="345.76" y1="857.00" x2="345.76" y2="863.50" stroke="#000" stroke-width="1.75"/>
<text transform="translate(337.16,884.00) scale(1.1500,1)" x="-0.74" y="0" font-size="14.8" fill="#000" stroke="#000" stroke-width="0.3">29</text>
<line x1="382.44" y1="857.00" x2="382.44" y2="863.50" stroke="#000" stroke-width="1.75"/>
<text transform="translate(373.67,884.00) scale(1.1500,1)" x="-0.59" y="0" font-size="14.8" fill="#000" stroke="#000" stroke-width="0.3">33</text>
<line x1="419.12" y1="857.00" x2="419.12" y2="863.50" stroke="#000" stroke-width="1.75"/>
<text transform="translate(410.44,884.00) scale(1.1500,1)" x="-0.59" y="0" font-size="14.8" fill="#000" stroke="#000" stroke-width="0.3">37</text>
<line x1="455.80" y1="857.00" x2="455.80" y2="863.50" stroke="#000" stroke-width="1.75"/>
<text transform="translate(446.95,884.00) scale(1.1500,1)" x="-0.30" y="0" font-size="14.8" fill="#000" stroke="#000" stroke-width="0.3">41</text>
<line x1="492.48" y1="857.00" x2="492.48" y2="863.50" stroke="#000" stroke-width="1.75"/>
<text transform="translate(483.54,884.00) scale(1.1500,1)" x="-0.30" y="0" font-size="14.8" fill="#000" stroke="#000" stroke-width="0.3">45</text>
<rect x="336.80" y="710.80" width="18.20" height="5.80" fill="#dd8a17"/>
<rect x="336.80" y="726.70" width="18.20" height="5.80" fill="#68a9df"/>
<rect x="336.80" y="744.00" width="18.20" height="5.80" fill="#a5002a"/>
<rect x="336.80" y="761.30" width="18.20" height="5.80" fill="#2b4a80"/>
<text transform="translate(361.70,717.90) scale(1.0200,1)" x="-0.72" y="0" font-size="14.4" fill="#000" stroke="#000" stroke-width="0.3">Others</text>
<text transform="translate(361.70,734.60) scale(1.0200,1)" x="-0.72" y="0" font-size="14.4" fill="#000" stroke="#000" stroke-width="0.3">Stress molecules</text>
<text transform="translate(361.70,750.90) scale(1.0200,1)" x="-1.15" y="0" font-size="14.4" fill="#000" stroke="#000" stroke-width="0.3">Endothelial activation</text>
<text transform="translate(361.70,767.60) scale(1.0200,1)" x="-1.15" y="0" font-size="14.4" fill="#000" stroke="#000" stroke-width="0.3">Platelet activation</text>
<text transform="translate(40.20,840.00) rotate(-90) scale(0.6484,1)" x="-1.62" y="0" font-size="20.2" fill="#000" stroke="#000" stroke-width="0.45" word-spacing="2.2">No. of altered parameter</text>
<text transform="translate(218.80,911.10) scale(0.6435,1)" x="-1.01" y="0" font-size="20.2" fill="#000" stroke="#000" stroke-width="0.45" word-spacing="2.2">Sea level patients (SLP)</text>
<text transform="translate(15.80,966.90)" x="-1.76" y="0" font-size="25.2" font-weight="bold" fill="#000">D</text>
<text transform="translate(99.00,986.80) scale(1.0065,1)" x="-1.23" y="0" font-size="15.4" fill="#000" stroke="#000" stroke-width="0.3">Platelet, Endothelial &amp;</text>
<text transform="translate(122.67,1006.90)" x="-0.77" y="0" font-size="15.4" fill="#000" stroke="#000" stroke-width="0.3">Stress Markers</text>
<text transform="translate(339.69,986.90)" x="-0.77" y="0" font-size="15.4" fill="#000" stroke="#000" stroke-width="0.3">Other</text>
<text transform="translate(321.51,1006.90)" x="-1.23" y="0" font-size="15.4" fill="#000" stroke="#000" stroke-width="0.3">Parameters</text>
<circle cx="355.5" cy="1032.0" r="4.2" fill="#68a93e" stroke="#5c9e33" stroke-width="0.8"/>
<text transform="translate(366.50,1036.40) scale(1.0273,1)" x="-1.16" y="0" font-size="14.5" fill="#000" stroke="#000" stroke-width="0.3">HAP</text>
<circle cx="418.8" cy="1032.0" r="4.0" fill="none" stroke="#233f78" stroke-width="1.45"/>
<text transform="translate(429.60,1036.40) scale(1.0403,1)" x="-0.72" y="0" font-size="14.5" fill="#000" stroke="#000" stroke-width="0.3">SLP</text>
<line x1="83.00" y1="1016.90" x2="83.00" y2="1255.80" stroke="#000" stroke-width="2.0"/>
<line x1="77.10" y1="1023.10" x2="83.00" y2="1023.10" stroke="#000" stroke-width="1.75"/>
<text transform="translate(44.33,1028.20) scale(1.1500,1)" x="-1.15" y="0" font-size="14.4" fill="#000" stroke="#000" stroke-width="0.3">100</text>
<line x1="77.10" y1="1068.42" x2="83.00" y2="1068.42" stroke="#000" stroke-width="1.75"/>
<text transform="translate(52.94,1073.52) scale(1.1500,1)" x="-0.58" y="0" font-size="14.4" fill="#000" stroke="#000" stroke-width="0.3">80</text>
<line x1="77.10" y1="1113.74" x2="83.00" y2="1113.74" stroke="#000" stroke-width="1.75"/>
<text transform="translate(53.11,1118.84) scale(1.1500,1)" x="-0.72" y="0" font-size="14.4" fill="#000" stroke="#000" stroke-width="0.3">60</text>
<line x1="77.10" y1="1159.06" x2="83.00" y2="1159.06" stroke="#000" stroke-width="1.75"/>
<text transform="translate(52.61,1164.16) scale(1.1500,1)" x="-0.29" y="0" font-size="14.4" fill="#000" stroke="#000" stroke-width="0.3">40</text>
<line x1="77.10" y1="1204.38" x2="83.00" y2="1204.38" stroke="#000" stroke-width="1.75"/>
<text transform="translate(53.11,1209.48) scale(1.1500,1)" x="-0.72" y="0" font-size="14.4" fill="#000" stroke="#000" stroke-width="0.3">20</text>
<line x1="77.10" y1="1249.70" x2="83.00" y2="1249.70" stroke="#000" stroke-width="1.75"/>
<text transform="translate(62.05,1254.80) scale(1.1500,1)" x="-0.58" y="0" font-size="14.4" fill="#000" stroke="#000" stroke-width="0.3">0</text>
<text transform="translate(31.90,1249.60) rotate(-90) scale(0.6382,1)" x="-1.65" y="0" font-size="20.6" fill="#000" stroke="#000" stroke-width="0.45" word-spacing="2.2">Relative percent of altered parameters</text>
<ellipse cx="180.0" cy="1098.4" rx="90.2" ry="60.8" fill="#e5c7bc" stroke="none" stroke-width="0"/>
<clipPath id="cr"><ellipse cx="180.0" cy="1098.4" rx="90.2" ry="60.8"/></clipPath>
<rect x="264.4" y="1030" width="10" height="140" fill="#f6dbd0" clip-path="url(#cr)"/>
<ellipse cx="180.0" cy="1098.4" rx="90.2" ry="60.8" fill="none" stroke="#a5002a" stroke-width="1.8"/>
<ellipse cx="181.2" cy="1223.8" rx="83.0" ry="50.2" fill="#c8c9de" stroke="#2b4a80" stroke-width="1.6"/>
<path d="M265.60,1187.60 C266.13,1186.62 266.07,1185.58 268.30,1185.10 C270.53,1184.62 275.25,1184.57 279.00,1184.70 C282.75,1184.83 285.30,1185.18 290.80,1185.90 C296.30,1186.62 302.97,1186.48 312.00,1189.00 C321.03,1191.52 333.67,1196.17 345.00,1201.00 C356.33,1205.83 369.17,1212.67 380.00,1218.00 C390.83,1223.33 402.00,1228.83 410.00,1233.00 C418.00,1237.17 424.08,1240.55 428.00,1243.00 C431.92,1245.45 432.18,1246.30 433.50,1247.70 C434.82,1249.10 435.62,1250.32 435.90,1251.40 C436.18,1252.48 435.93,1253.27 435.20,1254.20 C434.47,1255.13 433.72,1256.23 431.50,1257.00 C429.28,1257.77 426.70,1258.43 421.90,1258.80 C417.10,1259.17 409.10,1259.28 402.70,1259.20 C396.30,1259.12 389.92,1258.85 383.50,1258.30 C377.08,1257.75 370.10,1257.20 364.20,1255.90 C358.30,1254.60 352.38,1251.87 348.10,1250.50 C343.82,1249.13 341.72,1248.65 338.50,1247.70 C335.28,1246.75 332.02,1246.00 328.80,1244.80 C325.58,1243.60 322.40,1242.10 319.20,1240.50 C316.00,1238.90 312.80,1237.03 309.60,1235.20 C306.40,1233.37 303.27,1231.65 300.00,1229.50 C296.73,1227.35 292.73,1224.23 290.00,1222.30 C287.27,1220.37 285.47,1219.37 283.60,1217.90 C281.73,1216.43 280.40,1215.05 278.80,1213.50 C277.20,1211.95 275.60,1210.37 274.00,1208.60 C272.40,1206.83 270.55,1204.90 269.20,1202.90 C267.85,1200.90 266.58,1198.58 265.90,1196.60 C265.22,1194.62 265.15,1192.50 265.10,1191.00 C265.05,1189.50 265.07,1188.58 265.60,1187.60 Z" fill="#e2ebd4" stroke="#68a93e" stroke-width="1.6"/>
<ellipse cx="358.9" cy="1192.75" rx="108.0" ry="24.7" fill="#cdbdd9" stroke="#4b1b6c" stroke-width="1.6" transform="rotate(27.75 358.9 1192.75)"/>
<circle cx="159.1" cy="1043.7" r="4.35" fill="#68a93e" stroke="#5c9e33" stroke-width="0.8"/>
<circle cx="170.5" cy="1043.7" r="4.35" fill="#68a93e" stroke="#5c9e33" stroke-width="0.8"/>
<circle cx="175.4" cy="1043.7" r="4.35" fill="#68a93e" stroke="#5c9e33" stroke-width="0.8"/>
<circle cx="111.8" cy="1064.8" r="4.35" fill="#68a93e" stroke="#5c9e33" stroke-width="0.8"/>
<circle cx="116.0" cy="1064.8" r="4.35" fill="#68a93e" stroke="#5c9e33" stroke-width="0.8"/>
<circle cx="121.0" cy="1064.8" r="4.35" fill="#68a93e" stroke="#5c9e33" stroke-width="0.8"/>
<circle cx="143.4" cy="1064.8" r="4.35" fill="#68a93e" stroke="#5c9e33" stroke-width="0.8"/>
<circle cx="153.1" cy="1064.8" r="4.35" fill="#68a93e" stroke="#5c9e33" stroke-width="0.8"/>
<circle cx="165.4" cy="1064.8" r="4.35" fill="#68a93e" stroke="#5c9e33" stroke-width="0.8"/>
<circle cx="184.1" cy="1064.8" r="4.35" fill="#68a93e" stroke="#5c9e33" stroke-width="0.8"/>
<circle cx="219.4" cy="1064.8" r="4.35" fill="#68a93e" stroke="#5c9e33" stroke-width="0.8"/>
<circle cx="235.8" cy="1064.8" r="4.35" fill="#68a93e" stroke="#5c9e33" stroke-width="0.8"/>
<circle cx="245.3" cy="1064.8" r="4.35" fill="#68a93e" stroke="#5c9e33" stroke-width="0.8"/>
<circle cx="98.2" cy="1085.1" r="4.35" fill="#68a93e" stroke="#5c9e33" stroke-width="0.8"/>
<circle cx="117.9" cy="1085.1" r="4.35" fill="#68a93e" stroke="#5c9e33" stroke-width="0.8"/>
<circle cx="123.7" cy="1085.1" r="4.35" fill="#68a93e" stroke="#5c9e33" stroke-width="0.8"/>
<circle cx="136.7" cy="1085.1" r="4.35" fill="#68a93e" stroke="#5c9e33" stroke-width="0.8"/>
<circle cx="143.0" cy="1085.1" r="4.35" fill="#68a93e" stroke="#5c9e33" stroke-width="0.8"/>
<circle cx="149.5" cy="1085.1" r="4.35" fill="#68a93e" stroke="#5c9e33" stroke-width="0.8"/>
<circle cx="162.6" cy="1085.1" r="4.35" fill="#68a93e" stroke="#5c9e33" stroke-width="0.8"/>
<circle cx="177.2" cy="1085.1" r="4.35" fill="#68a93e" stroke="#5c9e33" stroke-width="0.8"/>
<circle cx="181.0" cy="1085.1" r="4.35" fill="#68a93e" stroke="#5c9e33" stroke-width="0.8"/>
<circle cx="199.7" cy="1085.1" r="4.35" fill="#68a93e" stroke="#5c9e33" stroke-width="0.8"/>
<circle cx="208.8" cy="1085.1" r="4.35" fill="#68a93e" stroke="#5c9e33" stroke-width="0.8"/>
<circle cx="213.4" cy="1085.1" r="4.35" fill="#68a93e" stroke="#5c9e33" stroke-width="0.8"/>
<circle cx="218.8" cy="1085.1" r="4.35" fill="#68a93e" stroke="#5c9e33" stroke-width="0.8"/>
<circle cx="223.4" cy="1085.1" r="4.35" fill="#68a93e" stroke="#5c9e33" stroke-width="0.8"/>
<circle cx="228.0" cy="1085.1" r="4.35" fill="#68a93e" stroke="#5c9e33" stroke-width="0.8"/>
<circle cx="231.6" cy="1085.1" r="4.35" fill="#68a93e" stroke="#5c9e33" stroke-width="0.8"/>
<circle cx="241.7" cy="1085.1" r="4.35" fill="#68a93e" stroke="#5c9e33" stroke-width="0.8"/>
<circle cx="254.5" cy="1085.1" r="4.35" fill="#68a93e" stroke="#5c9e33" stroke-width="0.8"/>
<circle cx="95.6" cy="1105.6" r="4.35" fill="#68a93e" stroke="#5c9e33" stroke-width="0.8"/>
<circle cx="99.5" cy="1105.6" r="4.35" fill="#68a93e" stroke="#5c9e33" stroke-width="0.8"/>
<circle cx="103.5" cy="1105.6" r="4.35" fill="#68a93e" stroke="#5c9e33" stroke-width="0.8"/>
<circle cx="108.0" cy="1105.6" r="4.35" fill="#68a93e" stroke="#5c9e33" stroke-width="0.8"/>
<circle cx="127.4" cy="1105.6" r="4.35" fill="#68a93e" stroke="#5c9e33" stroke-width="0.8"/>
<circle cx="133.4" cy="1105.6" r="4.35" fill="#68a93e" stroke="#5c9e33" stroke-width="0.8"/>
<circle cx="191.1" cy="1105.6" r="4.35" fill="#68a93e" stroke="#5c9e33" stroke-width="0.8"/>
<circle cx="194.2" cy="1105.6" r="4.35" fill="#68a93e" stroke="#5c9e33" stroke-width="0.8"/>
<circle cx="197.3" cy="1105.6" r="4.35" fill="#68a93e" stroke="#5c9e33" stroke-width="0.8"/>
<circle cx="226.2" cy="1105.6" r="4.35" fill="#68a93e" stroke="#5c9e33" stroke-width="0.8"/>
<circle cx="247.4" cy="1105.6" r="4.35" fill="#68a93e" stroke="#5c9e33" stroke-width="0.8"/>
<circle cx="251.4" cy="1105.6" r="4.35" fill="#68a93e" stroke="#5c9e33" stroke-width="0.8"/>
<circle cx="130.3" cy="1126.0" r="4.35" fill="#68a93e" stroke="#5c9e33" stroke-width="0.8"/>
<circle cx="155.3" cy="1126.0" r="4.35" fill="#68a93e" stroke="#5c9e33" stroke-width="0.8"/>
<circle cx="168.7" cy="1126.0" r="4.35" fill="#68a93e" stroke="#5c9e33" stroke-width="0.8"/>
<circle cx="187.4" cy="1126.0" r="4.35" fill="#68a93e" stroke="#5c9e33" stroke-width="0.8"/>
<circle cx="238.4" cy="1126.0" r="4.35" fill="#68a93e" stroke="#5c9e33" stroke-width="0.8"/>
<circle cx="255.4" cy="1126.0" r="4.35" fill="#68a93e" stroke="#5c9e33" stroke-width="0.8"/>
<circle cx="203.3" cy="1146.5" r="4.35" fill="#68a93e" stroke="#5c9e33" stroke-width="0.8"/>
<circle cx="207.0" cy="1146.5" r="4.35" fill="#68a93e" stroke="#5c9e33" stroke-width="0.8"/>
<circle cx="254.6" cy="1167.3" r="4.35" fill="#68a93e" stroke="#5c9e33" stroke-width="0.8"/>
<circle cx="186.7" cy="1187.8" r="4.3" fill="none" stroke="#233f78" stroke-width="1.45"/>
<circle cx="110.6" cy="1208.4" r="4.3" fill="none" stroke="#233f78" stroke-width="1.45"/>
<circle cx="113.0" cy="1208.4" r="4.3" fill="none" stroke="#233f78" stroke-width="1.45"/>
<circle cx="119.7" cy="1208.4" r="4.3" fill="none" stroke="#233f78" stroke-width="1.45"/>
<circle cx="126.4" cy="1208.4" r="4.3" fill="none" stroke="#233f78" stroke-width="1.45"/>
<circle cx="148.7" cy="1208.4" r="4.3" fill="none" stroke="#233f78" stroke-width="1.45"/>
<circle cx="158.2" cy="1208.4" r="4.3" fill="none" stroke="#233f78" stroke-width="1.45"/>
<circle cx="177.2" cy="1208.4" r="4.3" fill="none" stroke="#233f78" stroke-width="1.45"/>
<circle cx="179.8" cy="1208.4" r="4.3" fill="none" stroke="#233f78" stroke-width="1.45"/>
<circle cx="193.3" cy="1208.4" r="4.3" fill="none" stroke="#233f78" stroke-width="1.45"/>
<circle cx="200.1" cy="1208.4" r="4.3" fill="none" stroke="#233f78" stroke-width="1.45"/>
<circle cx="202.8" cy="1208.4" r="4.3" fill="none" stroke="#233f78" stroke-width="1.45"/>
<circle cx="205.5" cy="1208.4" r="4.3" fill="none" stroke="#233f78" stroke-width="1.45"/>
<circle cx="106.9" cy="1229.1" r="4.3" fill="none" stroke="#233f78" stroke-width="1.45"/>
<circle cx="117.1" cy="1229.1" r="4.3" fill="none" stroke="#233f78" stroke-width="1.45"/>
<circle cx="122.9" cy="1229.1" r="4.3" fill="none" stroke="#233f78" stroke-width="1.45"/>
<circle cx="129.8" cy="1229.1" r="4.3" fill="none" stroke="#233f78" stroke-width="1.45"/>
<circle cx="131.9" cy="1229.1" r="4.3" fill="none" stroke="#233f78" stroke-width="1.45"/>
<circle cx="134.6" cy="1229.1" r="4.3" fill="none" stroke="#233f78" stroke-width="1.45"/>
<circle cx="137.7" cy="1229.1" r="4.3" fill="none" stroke="#233f78" stroke-width="1.45"/>
<circle cx="140.0" cy="1229.1" r="4.3" fill="none" stroke="#233f78" stroke-width="1.45"/>
<circle cx="155.0" cy="1229.1" r="4.3" fill="none" stroke="#233f78" stroke-width="1.45"/>
<circle cx="161.3" cy="1229.1" r="4.3" fill="none" stroke="#233f78" stroke-width="1.45"/>
<circle cx="170.9" cy="1229.1" r="4.3" fill="none" stroke="#233f78" stroke-width="1.45"/>
<circle cx="173.5" cy="1229.1" r="4.3" fill="none" stroke="#233f78" stroke-width="1.45"/>
<circle cx="183.6" cy="1229.1" r="4.3" fill="none" stroke="#233f78" stroke-width="1.45"/>
<circle cx="196.5" cy="1229.1" r="4.3" fill="none" stroke="#233f78" stroke-width="1.45"/>
<circle cx="208.8" cy="1229.1" r="4.3" fill="none" stroke="#233f78" stroke-width="1.45"/>
<circle cx="211.5" cy="1229.1" r="4.3" fill="none" stroke="#233f78" stroke-width="1.45"/>
<circle cx="214.2" cy="1229.1" r="4.3" fill="none" stroke="#233f78" stroke-width="1.45"/>
<circle cx="221.6" cy="1229.1" r="4.3" fill="none" stroke="#233f78" stroke-width="1.45"/>
<circle cx="224.3" cy="1229.1" r="4.3" fill="none" stroke="#233f78" stroke-width="1.45"/>
<circle cx="234.4" cy="1229.1" r="4.3" fill="none" stroke="#233f78" stroke-width="1.45"/>
<circle cx="142.3" cy="1249.8" r="4.3" fill="none" stroke="#233f78" stroke-width="1.45"/>
<circle cx="145.2" cy="1249.8" r="4.3" fill="none" stroke="#233f78" stroke-width="1.45"/>
<circle cx="152.1" cy="1249.8" r="4.3" fill="none" stroke="#233f78" stroke-width="1.45"/>
<circle cx="164.2" cy="1249.8" r="4.3" fill="none" stroke="#233f78" stroke-width="1.45"/>
<circle cx="167.1" cy="1249.8" r="4.3" fill="none" stroke="#233f78" stroke-width="1.45"/>
<circle cx="189.6" cy="1249.8" r="4.3" fill="none" stroke="#233f78" stroke-width="1.45"/>
<circle cx="218.3" cy="1249.8" r="4.3" fill="none" stroke="#233f78" stroke-width="1.45"/>
<circle cx="229.0" cy="1249.8" r="4.3" fill="none" stroke="#233f78" stroke-width="1.45"/>
<circle cx="231.7" cy="1249.8" r="4.3" fill="none" stroke="#233f78" stroke-width="1.45"/>
<circle cx="239.1" cy="1249.8" r="4.3" fill="none" stroke="#233f78" stroke-width="1.45"/>
<circle cx="241.8" cy="1249.8" r="4.3" fill="none" stroke="#233f78" stroke-width="1.45"/>
<circle cx="244.5" cy="1249.8" r="4.3" fill="none" stroke="#233f78" stroke-width="1.45"/>
<circle cx="246.5" cy="1249.8" r="4.3" fill="none" stroke="#233f78" stroke-width="1.45"/>
<circle cx="281.6" cy="1191.7" r="4.3" fill="none" stroke="#233f78" stroke-width="1.45"/>
<circle cx="284.5" cy="1207.4" r="4.3" fill="none" stroke="#233f78" stroke-width="1.45"/>
<circle cx="287.4" cy="1207.4" r="4.3" fill="none" stroke="#233f78" stroke-width="1.45"/>
<circle cx="290.3" cy="1207.4" r="4.3" fill="none" stroke="#233f78" stroke-width="1.45"/>
<circle cx="292.9" cy="1207.4" r="4.3" fill="none" stroke="#233f78" stroke-width="1.45"/>
<circle cx="294.3" cy="1212.8" r="4.3" fill="none" stroke="#233f78" stroke-width="1.45"/>
<circle cx="296.8" cy="1217.8" r="4.3" fill="none" stroke="#233f78" stroke-width="1.45"/>
<circle cx="300.9" cy="1217.8" r="4.3" fill="none" stroke="#233f78" stroke-width="1.45"/>
<circle cx="304.6" cy="1217.8" r="4.3" fill="none" stroke="#233f78" stroke-width="1.45"/>
<circle cx="308.7" cy="1217.8" r="4.3" fill="none" stroke="#233f78" stroke-width="1.45"/>
<circle cx="312.9" cy="1217.8" r="4.3" fill="none" stroke="#233f78" stroke-width="1.45"/>
<circle cx="317.2" cy="1217.8" r="4.3" fill="none" stroke="#233f78" stroke-width="1.45"/>
<circle cx="321.5" cy="1217.8" r="4.3" fill="none" stroke="#233f78" stroke-width="1.45"/>
<circle cx="325.8" cy="1217.8" r="4.3" fill="none" stroke="#233f78" stroke-width="1.45"/>
<circle cx="300.3" cy="1223.5" r="4.3" fill="none" stroke="#233f78" stroke-width="1.45"/>
<circle cx="333.9" cy="1222.9" r="4.3" fill="none" stroke="#233f78" stroke-width="1.45"/>
<circle cx="338.2" cy="1222.9" r="4.3" fill="none" stroke="#233f78" stroke-width="1.45"/>
<circle cx="342.0" cy="1222.9" r="4.3" fill="none" stroke="#233f78" stroke-width="1.45"/>
<circle cx="321.8" cy="1228.6" r="4.3" fill="none" stroke="#233f78" stroke-width="1.45"/>
<circle cx="332.4" cy="1228.6" r="4.3" fill="none" stroke="#233f78" stroke-width="1.45"/>
<circle cx="344.4" cy="1228.6" r="4.3" fill="none" stroke="#233f78" stroke-width="1.45"/>
<circle cx="347.3" cy="1228.6" r="4.3" fill="none" stroke="#233f78" stroke-width="1.45"/>
<circle cx="357.0" cy="1228.6" r="4.3" fill="none" stroke="#233f78" stroke-width="1.45"/>
<circle cx="364.2" cy="1228.6" r="4.3" fill="none" stroke="#233f78" stroke-width="1.45"/>
<circle cx="351.2" cy="1234.0" r="4.3" fill="none" stroke="#233f78" stroke-width="1.45"/>
<circle cx="354.5" cy="1234.0" r="4.3" fill="none" stroke="#233f78" stroke-width="1.45"/>
<circle cx="366.6" cy="1234.0" r="4.3" fill="none" stroke="#233f78" stroke-width="1.45"/>
<circle cx="370.6" cy="1231.8" r="4.3" fill="none" stroke="#233f78" stroke-width="1.45"/>
<circle cx="393.7" cy="1231.8" r="4.3" fill="none" stroke="#233f78" stroke-width="1.45"/>
<circle cx="361.3" cy="1239.5" r="4.3" fill="none" stroke="#233f78" stroke-width="1.45"/>
<circle cx="365.4" cy="1239.5" r="4.3" fill="none" stroke="#233f78" stroke-width="1.45"/>
<circle cx="369.4" cy="1239.5" r="4.3" fill="none" stroke="#233f78" stroke-width="1.45"/>
<circle cx="373.4" cy="1239.5" r="4.3" fill="none" stroke="#233f78" stroke-width="1.45"/>
<circle cx="377.5" cy="1239.5" r="4.3" fill="none" stroke="#233f78" stroke-width="1.45"/>
<circle cx="381.6" cy="1239.5" r="4.3" fill="none" stroke="#233f78" stroke-width="1.45"/>
<circle cx="385.6" cy="1239.5" r="4.3" fill="none" stroke="#233f78" stroke-width="1.45"/>
<circle cx="389.7" cy="1239.5" r="4.3" fill="none" stroke="#233f78" stroke-width="1.45"/>
<circle cx="393.7" cy="1239.5" r="4.3" fill="none" stroke="#233f78" stroke-width="1.45"/>
<circle cx="397.8" cy="1239.5" r="4.3" fill="none" stroke="#233f78" stroke-width="1.45"/>
<circle cx="401.8" cy="1239.5" r="4.3" fill="none" stroke="#233f78" stroke-width="1.45"/>
<circle cx="405.9" cy="1239.5" r="4.3" fill="none" stroke="#233f78" stroke-width="1.45"/>
<circle cx="412.3" cy="1237.4" r="4.3" fill="none" stroke="#233f78" stroke-width="1.45"/>
<circle cx="407.7" cy="1245.7" r="4.3" fill="none" stroke="#233f78" stroke-width="1.45"/>
<circle cx="416.6" cy="1242.2" r="4.3" fill="none" stroke="#233f78" stroke-width="1.45"/>
<circle cx="418.1" cy="1249.8" r="4.3" fill="none" stroke="#233f78" stroke-width="1.45"/>
<circle cx="421.0" cy="1249.8" r="4.3" fill="none" stroke="#233f78" stroke-width="1.45"/>
<circle cx="422.9" cy="1249.8" r="4.3" fill="none" stroke="#233f78" stroke-width="1.45"/>
<circle cx="282.1" cy="1144.5" r="4.35" fill="#68a93e" stroke="#5c9e33" stroke-width="0.8"/>
<circle cx="285.0" cy="1154.4" r="4.35" fill="#68a93e" stroke="#5c9e33" stroke-width="0.8"/>
<circle cx="289.0" cy="1159.8" r="4.35" fill="#68a93e" stroke="#5c9e33" stroke-width="0.8"/>
<circle cx="292.5" cy="1161.0" r="4.35" fill="#68a93e" stroke="#5c9e33" stroke-width="0.8"/>
<circle cx="294.8" cy="1165.2" r="4.35" fill="#68a93e" stroke="#5c9e33" stroke-width="0.8"/>
<circle cx="304.0" cy="1180.9" r="4.35" fill="#68a93e" stroke="#5c9e33" stroke-width="0.8"/>
<circle cx="297.7" cy="1186.3" r="4.35" fill="#68a93e" stroke="#5c9e33" stroke-width="0.8"/>
<circle cx="308.1" cy="1191.5" r="4.35" fill="#68a93e" stroke="#5c9e33" stroke-width="0.8"/>
<circle cx="315.0" cy="1185.8" r="4.35" fill="#68a93e" stroke="#5c9e33" stroke-width="0.8"/>
<circle cx="317.9" cy="1186.3" r="4.35" fill="#68a93e" stroke="#5c9e33" stroke-width="0.8"/>
<circle cx="320.8" cy="1191.5" r="4.35" fill="#68a93e" stroke="#5c9e33" stroke-width="0.8"/>
<circle cx="326.5" cy="1197.3" r="4.35" fill="#68a93e" stroke="#5c9e33" stroke-width="0.8"/>
<circle cx="322.0" cy="1189.0" r="4.35" fill="#68a93e" stroke="#5c9e33" stroke-width="0.8"/>
<circle cx="327.4" cy="1196.3" r="4.35" fill="#68a93e" stroke="#5c9e33" stroke-width="0.8"/>
<circle cx="330.8" cy="1200.4" r="4.35" fill="#68a93e" stroke="#5c9e33" stroke-width="0.8"/>
<circle cx="336.2" cy="1201.7" r="4.35" fill="#68a93e" stroke="#5c9e33" stroke-width="0.8"/>
<circle cx="340.2" cy="1207.1" r="4.35" fill="#68a93e" stroke="#5c9e33" stroke-width="0.8"/>
<circle cx="342.2" cy="1192.3" r="4.35" fill="#68a93e" stroke="#5c9e33" stroke-width="0.8"/>
<circle cx="345.6" cy="1211.1" r="4.35" fill="#68a93e" stroke="#5c9e33" stroke-width="0.8"/>
<circle cx="348.9" cy="1201.7" r="4.35" fill="#68a93e" stroke="#5c9e33" stroke-width="0.8"/>
<circle cx="352.3" cy="1211.8" r="4.35" fill="#68a93e" stroke="#5c9e33" stroke-width="0.8"/>
<circle cx="355.3" cy="1196.3" r="4.35" fill="#68a93e" stroke="#5c9e33" stroke-width="0.8"/>
<circle cx="361.0" cy="1217.2" r="4.35" fill="#68a93e" stroke="#5c9e33" stroke-width="0.8"/>
<circle cx="365.1" cy="1207.1" r="4.35" fill="#68a93e" stroke="#5c9e33" stroke-width="0.8"/>
<circle cx="368.5" cy="1216.5" r="4.35" fill="#68a93e" stroke="#5c9e33" stroke-width="0.8"/>
<circle cx="373.8" cy="1207.1" r="4.35" fill="#68a93e" stroke="#5c9e33" stroke-width="0.8"/>
<circle cx="375.2" cy="1213.2" r="4.35" fill="#68a93e" stroke="#5c9e33" stroke-width="0.8"/>
<circle cx="383.3" cy="1212.5" r="4.35" fill="#68a93e" stroke="#5c9e33" stroke-width="0.8"/>
<circle cx="387.3" cy="1217.9" r="4.35" fill="#68a93e" stroke="#5c9e33" stroke-width="0.8"/>
<circle cx="390.0" cy="1201.7" r="4.35" fill="#68a93e" stroke="#5c9e33" stroke-width="0.8"/>
<circle cx="393.5" cy="1202.2" r="4.35" fill="#68a93e" stroke="#5c9e33" stroke-width="0.8"/>
<circle cx="396.4" cy="1217.2" r="4.35" fill="#68a93e" stroke="#5c9e33" stroke-width="0.8"/>
<circle cx="399.9" cy="1218.0" r="4.35" fill="#68a93e" stroke="#5c9e33" stroke-width="0.8"/>
<circle cx="404.2" cy="1223.3" r="4.35" fill="#68a93e" stroke="#5c9e33" stroke-width="0.8"/>
<circle cx="412.0" cy="1217.2" r="4.35" fill="#68a93e" stroke="#5c9e33" stroke-width="0.8"/>
<circle cx="412.0" cy="1226.7" r="4.35" fill="#68a93e" stroke="#5c9e33" stroke-width="0.8"/>
<circle cx="417.2" cy="1221.5" r="4.35" fill="#68a93e" stroke="#5c9e33" stroke-width="0.8"/>
<circle cx="425.0" cy="1217.2" r="4.35" fill="#68a93e" stroke="#5c9e33" stroke-width="0.8"/>
<circle cx="421.5" cy="1226.7" r="4.35" fill="#68a93e" stroke="#5c9e33" stroke-width="0.8"/>
<circle cx="426.7" cy="1231.9" r="4.35" fill="#68a93e" stroke="#5c9e33" stroke-width="0.8"/>
<circle cx="431.9" cy="1238.0" r="4.35" fill="#68a93e" stroke="#5c9e33" stroke-width="0.8"/>
<circle cx="437.1" cy="1233.7" r="4.35" fill="#68a93e" stroke="#5c9e33" stroke-width="0.8"/>
<circle cx="442.3" cy="1238.8" r="4.35" fill="#68a93e" stroke="#5c9e33" stroke-width="0.8"/>
<circle cx="448.4" cy="1238.8" r="4.35" fill="#68a93e" stroke="#5c9e33" stroke-width="0.8"/>
<circle cx="431.5" cy="1240.5" r="4.35" fill="#68a93e" stroke="#5c9e33" stroke-width="0.8"/>
<circle cx="437.5" cy="1241.0" r="4.35" fill="#68a93e" stroke="#5c9e33" stroke-width="0.8"/>
<circle cx="442.0" cy="1235.5" r="4.35" fill="#68a93e" stroke="#5c9e33" stroke-width="0.8"/>
<line x1="263.70" y1="1023.30" x2="263.70" y2="1248.80" stroke="#000" stroke-width="1.6"/>
<line x1="83.00" y1="1135.60" x2="457.00" y2="1135.60" stroke="#000" stroke-width="1.7"/>
<line x1="112.40" y1="1152.20" x2="112.40" y2="1180.00" stroke="#000" stroke-width="1.6"/>
<polygon points="112.40,1186.00 107.30,1174.00 112.40,1176.20 117.50,1174.00" fill="#000"/>
<polygon points="112.40,1146.20 117.50,1158.20 112.40,1156.00 107.30,1158.20" fill="#000"/>
<line x1="275.16" y1="1077.86" x2="321.64" y2="1138.34" stroke="#000" stroke-width="1.6"/>
<polygon points="325.30,1143.10 313.94,1136.69 319.33,1135.33 322.03,1130.48" fill="#000"/>
<polygon points="271.50,1073.10 282.86,1079.51 277.47,1080.87 274.77,1085.72" fill="#000"/>
<line x1="259.10" y1="1262.00" x2="343.30" y2="1262.00" stroke="#000" stroke-width="1.6"/>
<polygon points="349.30,1262.00 337.30,1267.10 339.50,1262.00 337.30,1256.90" fill="#000"/>
<polygon points="253.10,1262.00 265.10,1256.90 262.90,1262.00 265.10,1267.10" fill="#000"/>
<line x1="444.46" y1="1261.98" x2="459.14" y2="1247.42" stroke="#000" stroke-width="1.6"/>
<polygon points="463.40,1243.20 458.47,1255.27 456.44,1250.10 451.29,1248.03" fill="#000"/>
<polygon points="440.20,1266.20 445.13,1254.13 447.16,1259.30 452.31,1261.37" fill="#000"/>
<text transform="translate(91.90,1170.30)" x="0.24" y="0" font-size="12.2" font-style="italic" fill="#000" stroke="#000" stroke-width="0.3">p</text>
<text transform="translate(103.10,1170.30) scale(1.0873,1)" x="-0.61" y="0" font-size="12.2" fill="#333" stroke="#333" stroke-width="0.3">&lt;</text>
<text transform="translate(113.90,1170.00) scale(1.0653,1)" x="-0.49" y="0" font-size="12.2" fill="#000" stroke="#000" stroke-width="0.3">0.0001</text>
<text transform="translate(272.70,1254.60)" x="0.24" y="0" font-size="12.2" font-style="italic" fill="#000" stroke="#000" stroke-width="0.3">p</text>
<text transform="translate(283.80,1254.60) scale(1.4219,1)" x="-0.61" y="0" font-size="12.2" fill="#000" stroke="#000" stroke-width="0.3">=</text>
<text transform="translate(296.20,1254.60) scale(1.0986,1)" x="-0.49" y="0" font-size="12.2" fill="#000" stroke="#000" stroke-width="0.3">0.002</text>
<text transform="translate(458.70,1263.10)" x="0.24" y="0" font-size="12.2" font-style="italic" fill="#000" stroke="#000" stroke-width="0.3">p</text>
<text transform="translate(469.10,1264.50) scale(1.1542,1)" x="-0.61" y="0" font-size="12.2" fill="#333" stroke="#333" stroke-width="0.3">&gt;</text>
<text transform="translate(480.00,1263.10) scale(1.1237,1)" x="-0.49" y="0" font-size="12.2" fill="#000" stroke="#000" stroke-width="0.3">0.99</text>
<text transform="translate(291.30,1079.40) rotate(52.5)" x="0.24" y="0" font-size="12.2" font-style="italic" fill="#000" stroke="#000" stroke-width="0.3">p</text>
<text transform="translate(298.12,1088.29) rotate(52.5) scale(1.0873,1)" x="-0.61" y="0" font-size="12.2" fill="#000" stroke="#000" stroke-width="0.3">&lt;</text>
<text transform="translate(304.69,1096.85) rotate(52.5) scale(1.0653,1)" x="-0.49" y="0" font-size="12.2" fill="#000" stroke="#000" stroke-width="0.3">0.0001</text>
<rect x="1" y="1" width="518" height="1287" fill="none" stroke="#000" stroke-width="2"/>
</svg></body></html>
